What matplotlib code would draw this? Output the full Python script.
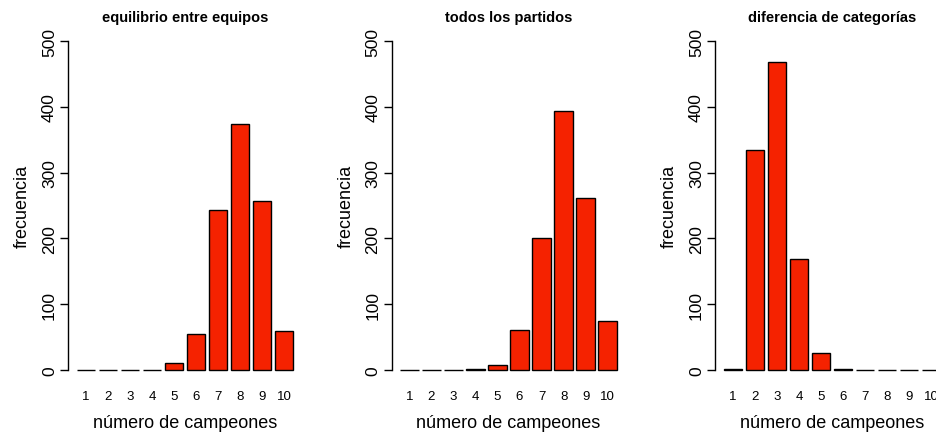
import numpy as np
import matplotlib
matplotlib.use("Agg")
import matplotlib.pyplot as plt

plt.rcParams['font.family'] = ['Liberation Sans', 'DejaVu Sans']

# datos
campeones = ['1', '2', '3', '4', '5', '6', '7', '8', '9', '10']
titulos = ["equilibrio entre equipos", "todos los partidos", "diferencia de categorías"]
equilibrio = [0, 0, 0, 0, 10, 55, 243, 374, 257, 59]
todos = [0, 0, 0, 2, 8, 61, 200, 393, 262, 75]
diferencia = [2, 335, 468, 169, 26, 2, 0, 0, 0, 0]
series = [equilibrio, todos, diferencia]
yticks = [0, 100, 200, 300, 400, 500]

W, H = 936, 435
fig = plt.figure(figsize=(W / 100, H / 100), dpi=100)

# posiciones tipo barplot de R (ancho 1, espacio 0.2)
xpos = 0.7 + 1.2 * np.arange(len(campeones))

for i, (tit, vals) in enumerate(zip(titulos, series)):
    left = 68 + 323.5 * i
    ax = fig.add_axes([left / W, (H - 384) / H, 234 / W, 355 / H])
    ax.bar(xpos, vals, width=1.0, color='#F52200', edgecolor='black', linewidth=1.0)
    ax.set_xlim(-0.272, 12.472)
    ax.set_ylim(-20, 520)
    for s in ['top', 'right', 'bottom']:
        ax.spines[s].set_visible(False)
    ax.spines['left'].set_bounds(0, 500)
    ax.spines['left'].set_linewidth(1.0)
    ax.set_yticks(yticks)
    ax.set_yticklabels([str(t) for t in yticks], rotation=90, va='center', fontsize=12.5)
    ax.tick_params(axis='y', length=6, width=1, pad=2)
    ax.set_xticks(xpos)
    ax.set_xticklabels(campeones, fontsize=9.5)
    ax.tick_params(axis='x', length=0, pad=5)
    ax.set_ylabel("frecuencia", fontsize=13, labelpad=8)
    ax.set_xlabel("número de campeones", fontsize=13, labelpad=9)
    ax.set_title(tit, fontsize=10.5, fontweight='bold', pad=5)

fig.savefig("out.png", dpi=100)
